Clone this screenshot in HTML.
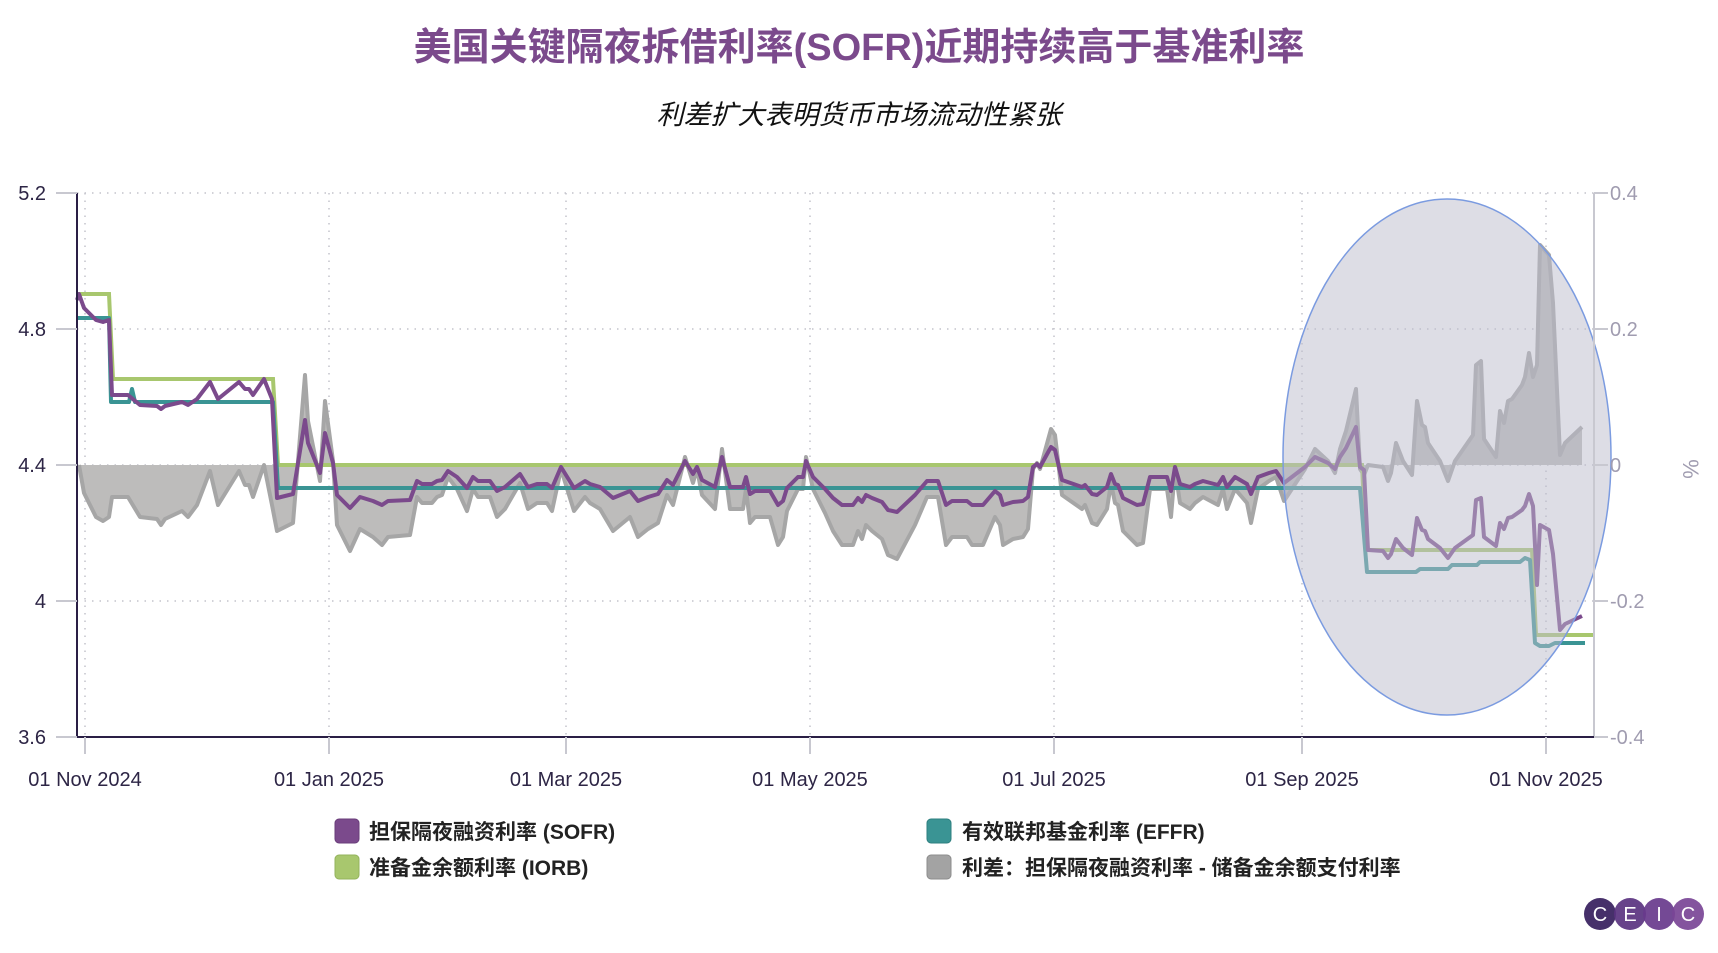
<!DOCTYPE html>
<html><head><meta charset="utf-8"><style>
html,body{margin:0;padding:0;background:#fff;}
body{width:1718px;height:948px;overflow:hidden;font-family:"Liberation Sans","Noto Sans CJK SC",sans-serif;}
</style></head><body>
<svg id="s" width="1718" height="948" xmlns="http://www.w3.org/2000/svg" font-family="Liberation Sans, Noto Sans CJK SC, sans-serif">
<text x="859" y="60" text-anchor="middle" font-size="38" font-weight="bold" fill="#7b4a8c">美国关键隔夜拆借利率(SOFR)近期持续高于基准利率</text>
<text x="859" y="124" text-anchor="middle" font-size="27" font-style="italic" fill="#111">利差扩大表明货币市场流动性紧张</text>
<g id="grid" stroke="#c4c4cc" stroke-width="1.5" stroke-dasharray="1.5,6"></g>
<g id="g"></g>
<ellipse cx="1447" cy="457" rx="164" ry="258" fill="rgba(188,188,204,0.5)" stroke="#7b9be0" stroke-width="1.5"/>
<g id="ax"></g>
<g font-size="21" font-weight="bold" fill="#222">
<rect x="335" y="819" width="24" height="24" rx="4" fill="#7b4a8c" stroke="#6a3d7a"/>
<text x="369" y="839">担保隔夜融资利率 (SOFR)</text>
<rect x="927" y="819" width="24" height="24" rx="4" fill="#3a9494" stroke="#2e7f7f"/>
<text x="962" y="839">有效联邦基金利率 (EFFR)</text>
<rect x="335" y="855" width="24" height="24" rx="4" fill="#a8c76e" stroke="#93b35c"/>
<text x="369" y="875">准备金余额利率 (IORB)</text>
<rect x="927" y="855" width="24" height="24" rx="4" fill="#a3a3a3" stroke="#8c8c8c"/>
<text x="962" y="875">利差：担保隔夜融资利率 - 储备金余额支付利率</text>
</g>
<g font-size="20" fill="#fff" text-anchor="middle">
<circle cx="1600" cy="914" r="16" fill="#46306a"/>
<circle cx="1630" cy="914" r="16" fill="#5a3380" fill-opacity="0.92"/>
<circle cx="1659" cy="914" r="16" fill="#68398c" fill-opacity="0.92"/>
<circle cx="1688" cy="914" r="16" fill="#7a4596" fill-opacity="0.92"/>
<text x="1600" y="921">C</text><text x="1630" y="921">E</text><text x="1659" y="921">I</text><text x="1688" y="921">C</text>
</g>
</svg>
<script>
var NS="http://www.w3.org/2000/svg";
function el(p,t,a,txt){var e=document.createElementNS(NS,t);for(var k in a)e.setAttribute(k,a[k]);if(txt!=null)e.textContent=txt;document.getElementById(p).appendChild(e);return e;}
var L=77,R=1594,T=193,B=737;
[193,329,465,601].forEach(function(y){el("grid","line",{x1:L,x2:R,y1:y,y2:y});});
var xt=[[85,"01 Nov 2024"],[329,"01 Jan 2025"],[566,"01 Mar 2025"],[810,"01 May 2025"],[1054,"01 Jul 2025"],[1302,"01 Sep 2025"],[1546,"01 Nov 2025"]];
xt.forEach(function(t){el("grid","line",{x1:t[0],x2:t[0],y1:T,y2:B});});
var sofr=[[79,294],[84,308],[96,320],[103,322],[109,320],[112,395],[128,395],[140,405],[157,406],[161,409],[165,406],[182,402],[188,405],[197,399],[210,382],[218,399],[239,382],[245,389],[249,389],[253,395],[264,379],[272,399],[277,498],[293,494],[305,420],[308,443],[320,473],[325,433],[333,463],[337,495],[350,508],[360,497],[373,501],[382,505],[388,501],[410,500],[417,481],[422,484],[432,484],[437,481],[442,480],[448,471],[457,477],[467,488],[473,477],[478,481],[490,481],[497,491],[505,487],[520,474],[528,487],[537,484],[547,484],[552,488],[561,467],[574,488],[585,481],[590,484],[600,487],[613,498],[630,491],[638,501],[648,497],[658,494],[667,480],[673,485],[685,461],[693,474],[697,467],[702,480],[715,487],[722,457],[730,487],[743,487],[746,477],[750,494],[755,491],[770,491],[778,505],[783,501],[787,488],[798,477],[803,477],[806,461],[813,477],[825,489],[833,498],[842,505],[853,505],[858,498],[862,502],[866,495],[872,498],[882,502],[888,510],[897,512],[915,495],[927,481],[938,481],[946,505],[952,501],[967,501],[972,505],[983,505],[995,491],[1000,495],[1003,505],[1013,502],[1023,501],[1028,497],[1033,467],[1037,464],[1040,467],[1051,447],[1055,450],[1062,480],[1082,487],[1085,485],[1092,494],[1097,495],[1107,487],[1111,474],[1115,484],[1118,485],[1123,498],[1137,505],[1143,504],[1150,477],[1167,477],[1171,491],[1175,467],[1180,484],[1190,487],[1195,484],[1203,481],[1218,485],[1223,477],[1227,487],[1235,477],[1247,484],[1251,494],[1258,477],[1269,473],[1276,471],[1284,483],[1305,467],[1315,457],[1328,463],[1335,469],[1340,457],[1346,448],[1356,427],[1360,467],[1364,470],[1368,550],[1383,551],[1388,558],[1391,554],[1396,539],[1403,548],[1412,555],[1417,518],[1422,530],[1425,531],[1428,539],[1440,548],[1448,558],[1455,548],[1473,535],[1476,500],[1481,498],[1484,537],[1496,546],[1500,523],[1504,529],[1508,518],[1512,517],[1522,510],[1525,506],[1529,494],[1533,506],[1537,585],[1540,525],[1549,530],[1553,554],[1560,630],[1565,624],[1582,616]];
function iorb(x){return x<110?294:x<276?379:x<1366?465:x<1536?550:635;}
var sp=sofr.map(function(p){return [p[0],465+2*(p[1]-iorb(p[0]))];});
var d="M"+sp[0][0]+",465 "+sp.map(function(p){return "L"+p[0]+","+p[1];}).join(" ")+" L"+sp[sp.length-1][0]+",465Z";
el("g","path",{d:d,fill:"#bdbcbb"});
el("g","path",{d:"M"+sp.map(function(p){return p[0]+","+p[1];}).join(" L"),fill:"none",stroke:"#a6a6a6","stroke-width":4,"stroke-linejoin":"round"});
el("g","path",{d:"M78,294 L109,294 L113,379 L273,379 L278,465 L1362,465 L1366,550 L1532,550 L1536,635 L1594,635",fill:"none",stroke:"#a8c76e","stroke-width":4});
el("g","path",{d:"M78,318 L109,318 L111,402 L129,402 L132,389 L135,402 L273,402 L278,488 L1360,488 L1367,572 L1416,572 L1420,569 L1448,569 L1452,565 L1477,565 L1480,562 L1520,562 L1525,558 L1530,560 L1535,643 L1540,646 L1549,646 L1555,643 L1585,643",fill:"none",stroke:"#3a9494","stroke-width":4,"stroke-linejoin":"round"});
el("g","path",{d:"M77,300 L"+sofr.map(function(p){return p[0]+","+p[1];}).join(" L"),fill:"none",stroke:"#7b4a8c","stroke-width":4,"stroke-linejoin":"round"});
el("ax","line",{x1:R,x2:R,y1:T,y2:B,stroke:"#c8c8d0","stroke-width":2});
el("ax","line",{x1:L,x2:L,y1:T,y2:B,stroke:"#2a1f45","stroke-width":2});
el("ax","line",{x1:L,x2:R,y1:B,y2:B,stroke:"#2a1f45","stroke-width":2});
[[193,"5.2"],[329,"4.8"],[465,"4.4"],[601,"4"],[737,"3.6"]].forEach(function(t){
 el("ax","line",{x1:56,x2:L,y1:t[0],y2:t[0],stroke:"#c8c8d0","stroke-width":2});
 el("ax","text",{x:46,y:t[0]+7,"text-anchor":"end","font-size":20,fill:"#2d2545"},t[1]);});
[[193,"0.4"],[329,"0.2"],[465,"0"],[601,"-0.2"],[737,"-0.4"]].forEach(function(t){
 el("ax","line",{x1:R,x2:R+14,y1:t[0],y2:t[0],stroke:"#c8c8d0","stroke-width":2});
 el("ax","text",{x:R+16,y:t[0]+7,"font-size":20,fill:"#a09cb0"},t[1]);});
el("ax","text",{x:1690,y:462,"font-size":22,fill:"#a09cb0","text-anchor":"middle",transform:"rotate(90 1683 462)"},"%");
xt.forEach(function(t){
 el("ax","line",{x1:t[0],x2:t[0],y1:B,y2:B+17,stroke:"#c8c8d0","stroke-width":2});
 el("ax","text",{x:t[0],y:786,"text-anchor":"middle","font-size":20,fill:"#2d2545"},t[1]);});
</script>
</body></html>
